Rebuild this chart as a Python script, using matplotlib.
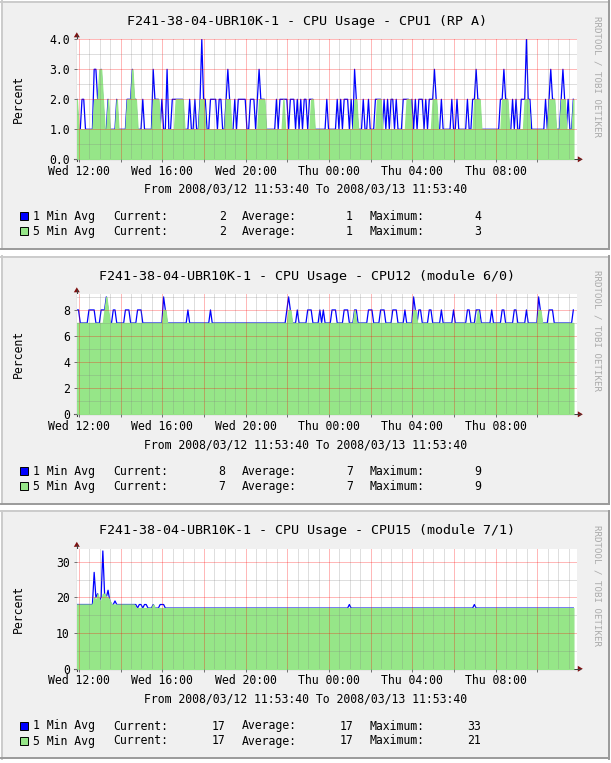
"""Three stacked RRDtool-style CPU usage graphs for F241-38-04-UBR10K-1."""
import matplotlib

matplotlib.use("Agg")
import matplotlib.pyplot as plt
import numpy as np
from matplotlib.patches import Polygon, Rectangle

W, H, DPI = 611, 763, 100
MONO = "DejaVu Sans Mono"

# time axis in hours since Wed 00:00; 2008/03/12 11:53:40 -> 2008/03/13 11:53:40
T_START = 11 + 53 / 60 + 40 / 3600
T_END = T_START + 24
STEP_H = 5 / 60  # 5 minute samples

HOST = "F241-38-04-UBR10K-1"
CPU_NAMES = ["CPU1 (RP A)", "CPU12 (module 6/0)", "CPU15 (module 7/1)"]
TICK_HOURS = [12, 16, 20, 24, 28, 32]
TICK_LABELS = ["Wed 12:00", "Wed 16:00", "Wed 20:00", "Thu 00:00", "Thu 04:00", "Thu 08:00"]
SERIES = ["1 Min Avg", "5 Min Avg"]

# samples, run-length encoded as (value, count)
CPU1_1MIN = [(2, 1), (1, 2), (2, 2), (1, 5), (3, 2), (2, 2), (3, 1), (2, 1), (1, 2), (2, 1), (1, 4), (2, 1),
             (1, 5), (2, 3), (3, 1), (2, 2), (1, 3), (2, 1), (1, 5), (3, 1), (2, 3), (1, 1), (2, 1), (1, 2),
             (3, 1), (1, 2), (2, 7), (1, 3), (2, 1), (1, 2), (2, 1), (1, 2), (2, 1), (4, 1), (2, 2), (1, 2),
             (2, 4), (1, 1), (2, 2), (1, 2), (2, 1), (3, 1), (2, 1), (1, 2), (2, 1), (1, 1), (2, 5), (1, 2),
             (2, 3), (1, 1), (2, 1), (3, 1), (2, 3), (1, 6), (2, 1), (1, 1), (2, 5), (1, 1), (2, 3), (1, 1),
             (2, 1), (1, 1), (2, 1), (1, 1), (2, 2), (1, 1), (2, 3), (1, 7), (2, 1), (1, 5), (2, 1), (1, 1),
             (2, 1), (1, 1), (2, 3), (1, 1), (2, 1), (1, 1), (3, 1), (2, 1), (1, 3), (2, 1), (1, 2), (2, 1),
             (1, 3), (2, 4), (1, 1), (2, 1), (1, 1), (2, 1), (1, 1), (2, 2), (1, 1), (2, 1), (1, 3), (2, 4),
             (1, 1), (2, 1), (1, 1), (2, 1), (1, 1), (2, 3), (1, 1), (2, 1), (1, 1), (2, 3), (3, 1), (2, 1),
             (1, 2), (2, 1), (1, 5), (2, 1), (1, 2), (2, 1), (1, 5), (2, 1), (1, 2), (2, 2), (3, 1), (2, 2),
             (1, 11), (2, 2), (3, 1), (2, 2), (1, 2), (2, 1), (1, 1), (2, 1), (1, 2), (2, 3), (4, 1), (2, 2),
             (1, 8), (2, 1), (1, 1), (2, 1), (3, 1), (2, 2), (1, 3), (2, 1), (3, 1), (2, 1), (1, 1), (2, 1),
             (1, 2), (2, 1)]
CPU1_5MIN = [(2, 1), (1, 9), (2, 3), (3, 2), (2, 1), (1, 2), (2, 1), (1, 4), (2, 1), (1, 5), (2, 3), (3, 1),
             (2, 2), (1, 9), (2, 4), (1, 9), (2, 5), (1, 9), (2, 3), (1, 12), (2, 3), (1, 16), (2, 4),
             (1, 10), (2, 1), (1, 15), (2, 2), (1, 23), (2, 2), (1, 11), (2, 3), (1, 14), (2, 3), (1, 12),
             (2, 3), (1, 21), (2, 4), (1, 12), (2, 4), (1, 9), (2, 3), (1, 11), (2, 4), (1, 3), (2, 3),
             (1, 4), (2, 1)]
CPU12_1MIN = [(8, 2), (7, 5), (8, 4), (7, 3), (8, 3), (9, 1), (8, 1), (7, 2), (8, 2), (7, 5), (8, 3), (7, 4),
              (8, 3), (7, 12), (9, 1), (8, 1), (7, 12), (8, 1), (7, 12), (8, 1), (7, 43), (8, 1), (9, 1),
              (8, 1), (7, 3), (8, 1), (7, 5), (8, 3), (7, 4), (8, 1), (7, 1), (8, 1), (7, 4), (8, 3), (7, 4),
              (8, 3), (7, 3), (8, 2), (7, 6), (8, 3), (7, 4), (8, 3), (7, 4), (8, 3), (7, 4), (8, 1), (7, 4),
              (9, 1), (8, 1), (7, 1), (8, 2), (7, 4), (8, 2), (7, 5), (8, 1), (7, 6), (8, 1), (7, 7), (8, 2),
              (7, 3), (8, 3), (7, 6), (8, 1), (7, 5), (8, 2), (7, 5), (8, 2), (7, 5), (8, 1), (7, 6), (9, 1),
              (8, 1), (7, 4), (8, 3), (7, 11), (8, 1)]
CPU12_5MIN = [(7, 16), (8, 1), (9, 1), (8, 1), (7, 31), (8, 2), (7, 70), (8, 2), (7, 36), (8, 1), (7, 33),
              (8, 2), (7, 35), (8, 1), (7, 34), (8, 2), (7, 19)]
CPU15_1MIN = [(18, 10), (27, 1), (20, 1), (21, 1), (19, 1), (20, 1), (33, 1), (21, 1), (20, 1), (22, 1),
              (19, 1), (18, 2), (19, 1), (18, 12), (17, 1), (18, 2), (17, 1), (18, 2), (17, 3), (18, 1),
              (17, 3), (18, 3), (17, 106), (18, 1), (17, 71), (18, 1), (17, 57)]
CPU15_5MIN = [(18, 10), (20, 1), (19, 1), (21, 1), (19, 2), (21, 2), (20, 2), (19, 1), (18, 14), (17, 10),
              (18, 1), (17, 242)]

# legend: current, average, maximum
STATS_1MIN = [(2, 1, 4), (8, 7, 9), (17, 17, 33)]
STATS_5MIN = [(2, 1, 3), (7, 7, 9), (17, 17, 21)]

Y_MAX = [4.0, 9.2, 33.6]
Y_MAJOR = [1, 2, 10]
Y_MINOR = [0.5, 1, 5]
Y_FMT = ["{:.1f}", "{:.0f}", "{:.0f}"]

BLUE, GREEN = "#0000FF", "#96E688"
BACK, SHADE_A, SHADE_B = "#F0F0F0", "#CBCBCB", "#9A9A9A"
AXIS, ARROW = "#404040", "#7F1010"

# layout in pixels
PANEL_Y = [0, 255, 509.5]
PLOT_L, PLOT_W, PLOT_TOP, PLOT_H = 76.8, 500, 39.3, 120
FS, FS_TITLE = 8.3, 9.6


def expand(rle):
    vals = np.repeat([v for v, _ in rle], [n for _, n in rle]).astype(float)
    return T_START + STEP_H * np.arange(len(vals)), vals


fig = plt.figure(figsize=(W / DPI, H / DPI), dpi=DPI)
fig.patch.set_facecolor("white")
bg = fig.add_axes([0, 0, 1, 1])
bg.set_xlim(0, W)
bg.set_ylim(H, 0)
bg.axis("off")

data = [(CPU1_1MIN, CPU1_5MIN), (CPU12_1MIN, CPU12_5MIN), (CPU15_1MIN, CPU15_5MIN)]
major_x = np.arange(12, 35, 2)
minor_x = np.arange(12, 36, 0.5)

for k, oy in enumerate(PANEL_Y):
    # panel with 3d border
    bg.add_patch(Rectangle((1, oy + 1), 608, 248, facecolor=BACK, edgecolor="none"))
    bg.plot([1, 609], [oy + 1.5, oy + 1.5], color=SHADE_A, lw=1.4)
    bg.plot([1.5, 1.5], [oy + 1, oy + 249], color=SHADE_A, lw=1.4)
    bg.plot([1, 609], [oy + 248.5, oy + 248.5], color=SHADE_B, lw=1.4)
    bg.plot([608.5, 608.5], [oy + 1, oy + 249], color=SHADE_B, lw=1.4)

    bg.text(307, oy + 24.8, f"{HOST} - CPU Usage - {CPU_NAMES[k]}", ha="center", va="baseline",
            family=MONO, fontsize=FS_TITLE)
    bg.text(18, oy + PLOT_TOP + PLOT_H / 2, "Percent", rotation=90, ha="center", va="center",
            family=MONO, fontsize=FS)
    bg.text(306, oy + 193, "From 2008/03/12 11:53:40 To 2008/03/13 11:53:40", ha="center",
            va="baseline", family=MONO, fontsize=FS)
    bg.text(597, oy + 76, "RRDTOOL / TOBI OETIKER", rotation=270, ha="center", va="center",
            family=MONO, fontsize=6.6, color="#ABABAB")

    # legend
    for row, (name, color, stats) in enumerate(zip(SERIES, [BLUE, GREEN], [STATS_1MIN[k], STATS_5MIN[k]])):
        y = oy + 216 + row * 15
        bg.add_patch(Rectangle((20, y - 4), 8, 8, facecolor=color, edgecolor="black", lw=0.7))
        bg.text(33, y + 4, name, va="baseline", family=MONO, fontsize=FS)
        for lab, lx, vx, v in zip(["Current:", "Average:", "Maximum:"], [113, 241.5, 369.5],
                                  [225.5, 353, 481], stats):
            bg.text(lx, y + 4, lab, va="baseline", family=MONO, fontsize=FS)
            bg.text(vx, y + 4, f"{v}", va="baseline", ha="right", family=MONO, fontsize=FS)

    # axis extensions and arrows
    top = oy + PLOT_TOP
    bot = top + PLOT_H
    bg.plot([PLOT_L, PLOT_L], [bot + 2, top - 4], color=AXIS, lw=0.8)
    bg.plot([PLOT_L - 3, PLOT_L + PLOT_W + 3], [bot, bot], color=AXIS, lw=0.8)
    bg.add_patch(Polygon([(PLOT_L, top - 7), (PLOT_L - 3, top - 2), (PLOT_L + 3, top - 2)],
                         closed=True, color=ARROW, lw=0))
    bg.add_patch(Polygon([(PLOT_L + PLOT_W + 6, bot), (PLOT_L + PLOT_W + 1, bot - 3),
                          (PLOT_L + PLOT_W + 1, bot + 3)], closed=True, color=ARROW, lw=0))

    ax = fig.add_axes([PLOT_L / W, 1 - bot / H, PLOT_W / W, PLOT_H / H])
    ax.set_facecolor("white")
    t1, v1 = expand(data[k][0])
    t5, v5 = expand(data[k][1])
    ax.plot(t1, v1, color=BLUE, lw=0.9, zorder=1.1)
    # area drawn over the line, with an edge so it hides the line where both agree
    ax.fill_between(t5, 0, v5, facecolor=GREEN, edgecolor=GREEN, lw=1.0, zorder=1.2)

    ax.set_xlim(T_START, T_END)
    ax.set_ylim(0, Y_MAX[k])
    ax.set_xticks(major_x)
    ax.set_xticklabels([TICK_LABELS[TICK_HOURS.index(h)] if h in TICK_HOURS else "" for h in major_x])
    ax.set_xticks(minor_x, minor=True)
    yt = np.arange(0, Y_MAX[k] + 1e-9, Y_MAJOR[k])
    ax.set_yticks(yt)
    ax.set_yticklabels([Y_FMT[k].format(v) for v in yt])
    ax.set_yticks(np.arange(0, Y_MAX[k] + 1e-9, Y_MINOR[k]), minor=True)

    ax.tick_params(which="minor", length=0)
    ax.tick_params(which="major", length=2, width=0.7, color="#707070", labelsize=FS)
    ax.tick_params(axis="x", pad=2.0)
    ax.tick_params(axis="y", pad=3.0)
    ax.set_axisbelow(False)
    ax.grid(which="minor", color="#7F7F7F", alpha=0.25, lw=0.72)
    ax.grid(which="major", color="#FF0000", alpha=0.28, lw=0.72)
    for lbl in ax.get_xticklabels() + ax.get_yticklabels():
        lbl.set_family(MONO)
    for side in ["top", "right", "left", "bottom"]:
        ax.spines[side].set_visible(False)

fig.savefig("out.png", dpi=DPI, facecolor="white")
